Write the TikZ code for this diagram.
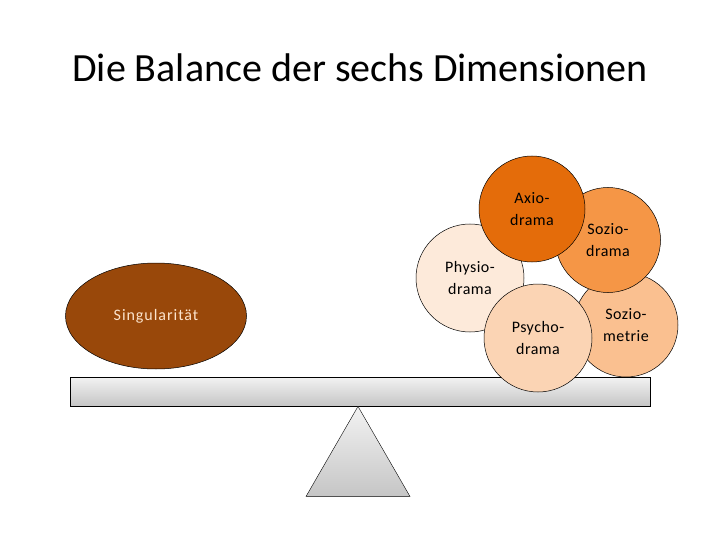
\documentclass[tikz,border=0pt]{standalone}
\usepackage{fontspec}
\setmainfont{Carlito}
\usetikzlibrary{shapes.geometric}
\definecolor{brownS}{RGB}{153,72,10}
\definecolor{axio}{RGB}{228,108,10}
\definecolor{sozd}{RGB}{245,150,70}
\definecolor{physio}{RGB}{253,234,218}
\definecolor{psycho}{RGB}{251,212,180}
\definecolor{sozm}{RGB}{250,192,144}
\definecolor{lightpeach}{RGB}{252,228,205}
\tikzset{
  dim/.style={circle, draw=black, line width=0.5pt, minimum size=#1, inner sep=0pt, align=center, font=\fontsize{16}{21.5}\selectfont\addfontfeatures{LetterSpace=3}, text=black},
  beamstyle/.style={draw=black, line width=0.6pt, top color=gray!10, bottom color=gray!45},
}
\begin{document}
\begin{tikzpicture}[x=1pt,y=-1pt]
\useasboundingbox (0,0) rectangle (720,540);
\node[font=\fontsize{40}{44}\selectfont] (title) at (360,68) {Die Balance der sechs Dimensionen};
% beam
\node[beamstyle, minimum width=580, minimum height=29, inner sep=0pt] (beam) at (360,391.5) {};
% fulcrum
\node[beamstyle, line width=0.4pt, isosceles triangle, isosceles triangle apex angle=60, shape border rotate=90, minimum height=90, inner sep=0pt, anchor=apex] (fulcrum) at (358,406) {};
% singularity
\node[ellipse, draw=black, line width=0.5pt, fill=brownS, minimum width=181, minimum height=106, inner sep=0pt, text=lightpeach, font=\fontsize{16}{18}\selectfont\addfontfeatures{LetterSpace=6}] (sing) at (156,316) {Singularität};
% circles
\node[dim=108, fill=physio] (physio) at (470,278) {Physio-\\drama};
\node[dim=104, fill=sozm] (sozm) at (626,325) {Sozio-\\metrie};
\node[dim=105, fill=sozd] (sozd) at (608,240) {Sozio-\\drama};
\node[dim=106, fill=axio] (axio) at (532,209) {Axio-\\drama};
\node[dim=108, fill=psycho] (psycho) at (538,338) {Psycho-\\drama};
\end{tikzpicture}
\end{document}
